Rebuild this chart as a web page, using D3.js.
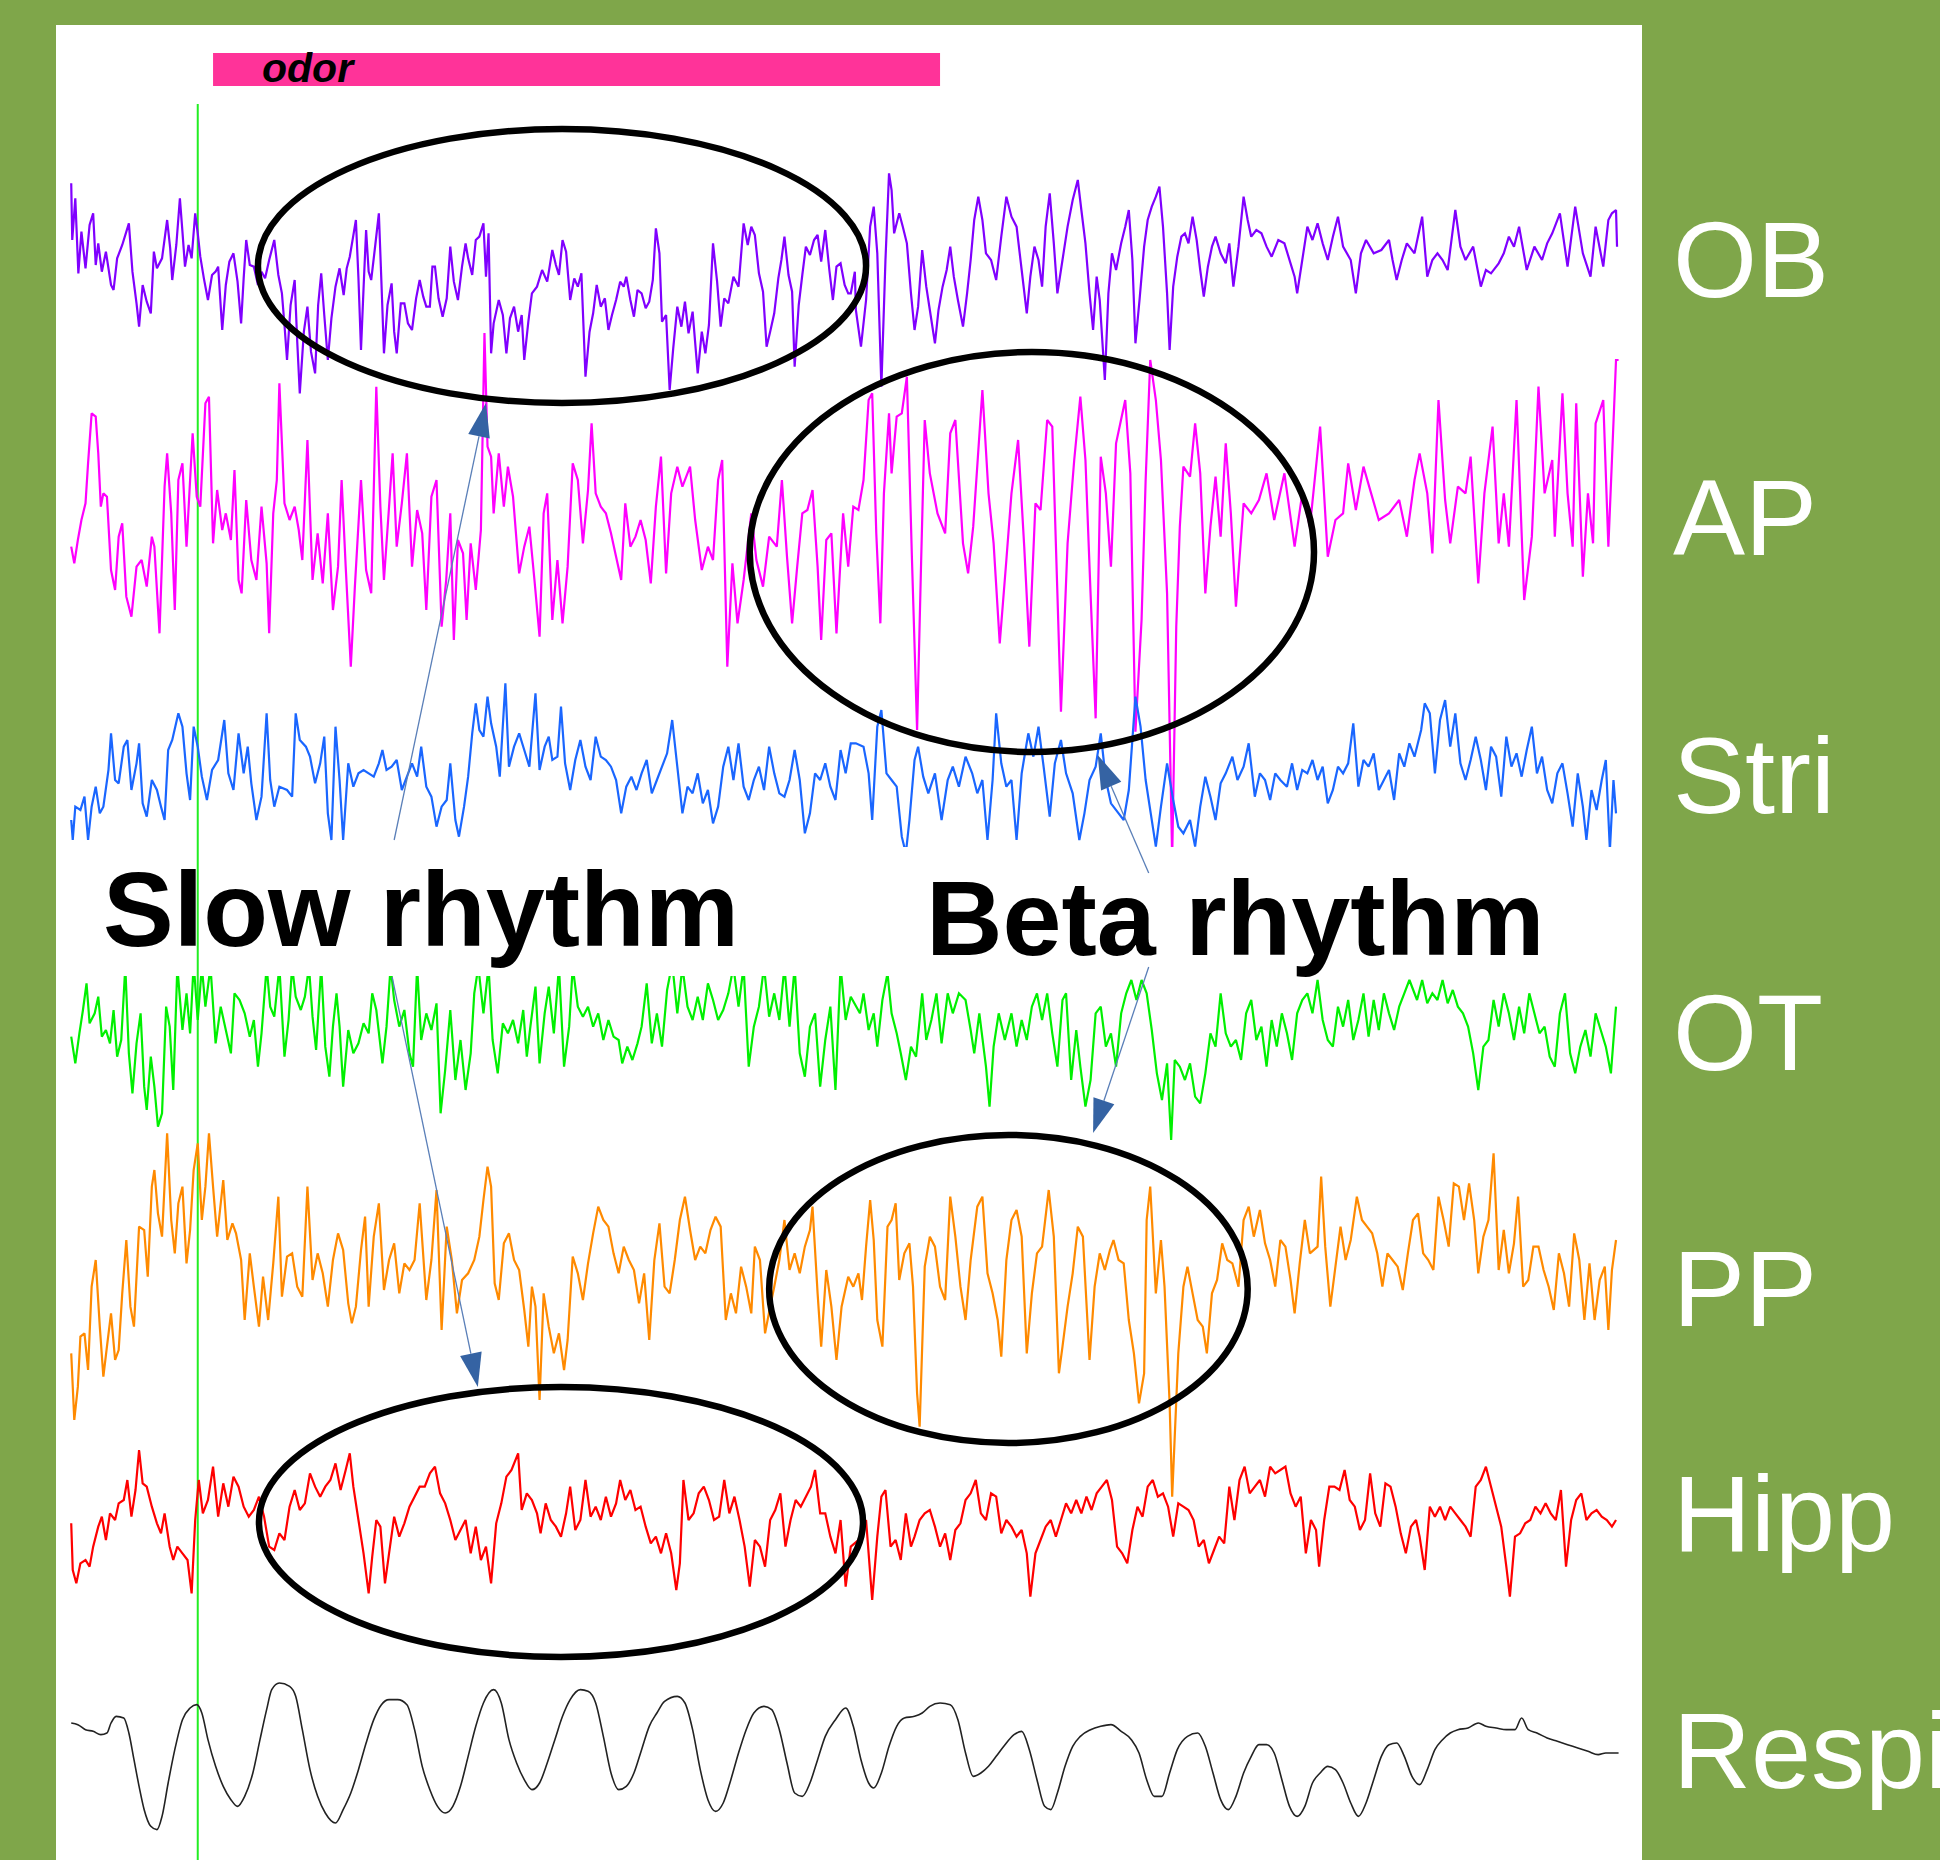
<!DOCTYPE html>
<html><head><meta charset="utf-8">
<script src="https://cdn.jsdelivr.net/npm/d3@7"></script>
<style>html,body{margin:0;padding:0;background:#7fa64a;}svg{display:block}</style>
</head><body><svg id="c" width="1940" height="1860"></svg>
<script>
// time in samples (1 kHz), amplitude in arbitrary units (µV-like)
const OB = [22,245,24,75,30,200,36,-25,42,100,50,-10,58,120,65,155,70,0,75,65,82,-20,90,40,100,-60,105,-75,112,20,122,60,135,125,142,-20,150,-115,155,-185,162,-60,170,-110,178,-145,184,40,190,-10,200,20,210,135,216,50,220,-45,228,60,235,200,240,100,245,-5,252,60,258,20,265,155,270,95,275,25,282,-40,290,-105,298,-30,305,-20,310,-5,318,-195,325,-60,332,10,340,35,348,-50,355,-175,360,-40,365,75,372,0,380,-5,388,-60,395,-20,402,-40,410,15,420,75,428,-30,435,-85,440,-180,445,-285,452,-120,460,-45,465,-230,470,-385,478,-200,485,-125,492,-260,500,-325,506,-120,512,-25,518,-150,525,-285,532,-160,540,-65,548,-10,556,-90,562,-10,568,25,574,80,580,135,585,-40,590,-255,595,-70,600,105,605,-20,610,-45,618,60,625,155,630,-50,635,-265,642,-120,650,-55,655,-200,660,-265,668,-115,675,-115,682,-175,690,-195,698,-100,705,-45,712,-95,718,-125,725,-125,730,-5,735,-5,742,-100,750,-155,758,-100,765,55,772,-50,780,-105,788,-5,795,65,800,20,808,-30,815,75,822,85,830,125,835,-35,840,95,845,-265,850,-175,860,-105,868,-150,875,-265,882,-160,890,-125,898,-200,905,-150,910,-285,918,-170,925,-85,935,-65,945,-15,955,-50,965,45,972,0,978,-30,985,75,992,40,1000,-105,1008,-40,1015,-65,1022,-25,1030,-335,1038,-200,1045,-145,1052,-60,1060,-125,1068,-100,1075,-195,1082,-150,1090,-105,1098,-50,1105,-65,1110,-35,1118,-105,1125,-155,1132,-75,1140,-85,1148,-130,1155,-110,1162,-45,1168,110,1175,35,1180,-170,1188,-150,1195,-375,1202,-250,1210,-125,1218,-185,1225,-110,1232,-205,1240,-140,1250,-325,1258,-200,1265,-265,1272,-180,1280,65,1288,-50,1295,-185,1302,-100,1310,-115,1320,-35,1330,-65,1340,125,1348,60,1355,115,1362,90,1370,-25,1378,-80,1385,-245,1392,-200,1400,-145,1408,-40,1414,15,1420,85,1428,-30,1435,-80,1440,-305,1448,-120,1455,-30,1462,55,1470,30,1478,75,1485,90,1492,10,1500,105,1508,-15,1515,-105,1522,-5,1530,5,1538,-60,1545,-85,1550,-85,1558,-20,
1560,-135,1570,-245,1580,-105,1588,115,1595,175,1602,35,1610,-365,1618,15,1625,275,1630,225,1635,95,1645,155,1652,115,1660,65,1668,-85,1675,-195,1682,-125,1690,45,1698,-65,1705,-135,1715,-235,1722,-135,1730,-65,1738,-15,1745,55,1752,-35,1760,-105,1770,-185,1778,-85,1785,15,1792,135,1800,205,1808,135,1815,35,1825,15,1835,-45,1845,85,1855,205,1865,145,1875,115,1885,-15,1895,-145,1902,-35,1910,55,1918,15,1925,-65,1932,115,1940,215,1948,65,1955,-85,1965,15,1975,115,1985,195,1995,255,2002,165,2010,65,2018,-85,2025,-195,2032,-35,2038,-105,2048,-345,2055,-85,2062,35,2070,-15,2080,65,2088,115,2095,165,2102,15,2108,-235,2116,-105,2125,55,2132,135,2140,175,2148,205,2155,235,2162,115,2170,-85,2175,-255,2182,-65,2190,25,2198,85,2205,95,2212,65,2220,145,2228,75,2235,-15,2242,-95,2250,-5,2258,55,2265,85,2275,35,2285,5,2292,65,2300,-65,2310,55,2320,205,2328,135,2335,85,2345,105,2355,95,2365,55,2375,25,2388,75,2400,65,2412,5,2420,-35,2425,-85,2435,15,2445,115,2455,75,2465,125,2475,65,2485,15,2495,85,2505,145,2515,55,2530,15,2540,-85,2550,35,2560,75,2575,35,2590,45,2605,75,2612,15,2620,-45,2630,15,2640,65,2655,35,2670,145,2680,-35,2690,15,2700,35,2710,15,2720,-15,2735,165,2745,55,2755,15,2770,55,2785,-65,2795,-15,2805,-25,2820,5,2830,35,2840,85,2850,55,2860,115,2875,-15,2890,55,2905,15,2915,65,2925,95,2940,155,2955,-5,2970,175,2985,35,3000,-35,3010,115,3025,-5,3035,135,3042,155,3050,165,3052,55];
const AP = [22,-65,28,-115,35,-45,42,15,50,65,55,185,62,335,70,325,75,215,80,55,85,95,92,85,100,-135,108,-195,115,-35,122,5,130,-215,140,-275,150,-125,160,-105,170,-185,180,-35,185,-65,195,-325,205,115,210,215,218,35,225,-255,232,135,240,185,248,-65,255,135,260,275,268,85,275,55,285,365,292,385,300,-55,308,105,318,-15,325,35,335,-45,342,165,350,-165,356,-205,365,75,375,-105,385,-165,395,55,405,-115,410,-325,418,35,425,135,430,425,440,65,450,15,460,55,468,-15,475,-105,485,255,495,-165,505,-25,515,-175,525,35,535,-255,545,-125,552,135,560,-125,570,-425,578,-185,590,135,600,-135,610,-205,620,415,628,55,635,-165,645,55,652,215,660,-65,670,65,680,215,690,-125,700,45,710,-25,718,-255,728,85,738,135,748,-305,757,-165,765,35,772,-345,780,-45,790,-85,797,-285,805,-55,815,-195,825,-15,832,576,838,235,845,205,850,35,860,215,870,55,878,175,888,85,900,-145,910,-65,920,-5,930,-165,940,-335,948,35,955,95,965,-285,975,-105,985,-295,995,-125,1005,185,1015,135,1025,-55,1035,105,1042,305,1050,95,1060,55,1070,35,1080,-25,1090,-95,1100,-165,1108,65,1118,-65,1128,-35,1138,15,1148,-45,1158,-175,1168,55,1178,205,1188,-145,1198,95,1210,175,1220,115,1235,175,1245,15,1258,-135,1270,-65,1280,-105,1290,135,1298,195,1308,-425,1318,-115,1328,-295,1340,-165,1355,35,1365,-105,1378,-185,1390,-35,1405,-65,1415,135,1425,-95,1435,-295,1445,-125,1455,35,1465,45,1475,105,1485,-125,1492,-345,1502,-45,1512,-25,1522,-325,1535,35,1545,-125,1555,55,
1565,45,1575,135,1585,375,1592,395,1600,-25,1608,-295,1615,95,1625,335,1630,155,1640,325,1650,335,1660,445,1670,-105,1680,-615,1688,-105,1695,315,1705,155,1720,35,1735,-25,1745,275,1755,315,1770,-55,1780,-145,1790,-5,1808,405,1820,95,1830,-55,1842,-355,1855,-105,1865,95,1878,255,1890,-65,1900,-365,1912,65,1922,45,1935,315,1945,295,1955,-205,1962,-560,1975,-55,1988,195,2000,385,2010,195,2020,-205,2030,-580,2040,205,2050,95,2060,-125,2070,245,2088,375,2098,155,2108,-620,2120,-285,2128,135,2137,495,2148,375,2158,195,2170,-205,2180,-1000,2188,-305,2195,-5,2202,175,2215,145,2225,305,2235,155,2245,-205,2255,-5,2265,145,2275,-35,2285,245,2295,35,2305,-245,2320,65,2335,35,2350,75,2365,155,2380,15,2400,155,2420,-65,2435,95,2450,-5,2470,295,2485,-95,2500,15,2515,35,2525,185,2540,45,2555,175,2570,95,2585,15,2605,35,2625,75,2640,-35,2655,135,2665,215,2680,95,2690,-85,2702,375,2715,75,2725,-55,2740,115,2755,95,2765,205,2780,-175,2792,95,2808,295,2820,-55,2830,95,2840,-65,2855,375,2870,-225,2885,-35,2898,415,2910,95,2925,195,2930,-35,2945,395,2955,95,2965,-65,2972,365,2985,-155,2995,95,3005,-55,3010,305,3025,375,3035,-65,3042,195,3050,495,3055,495];
const STRI = [22,-135,25,-195,30,-95,40,-105,48,-65,55,-195,62,-95,70,-35,78,-115,85,-95,95,15,100,125,108,-15,115,-25,125,85,132,105,140,-45,150,35,155,95,162,-85,170,-125,180,-15,190,-45,198,-95,205,-135,212,75,220,105,232,185,240,145,248,5,255,-75,262,145,270,85,278,-5,288,-75,298,15,310,45,322,165,330,5,340,-45,350,125,360,5,368,85,375,-25,385,-135,395,-65,405,185,412,-15,420,-95,430,-35,445,-45,455,-65,462,185,470,105,482,85,490,55,500,-25,510,35,518,115,525,-115,532,-195,540,145,548,-15,555,-195,565,35,575,-35,585,5,595,15,605,5,615,-5,625,35,632,75,640,15,650,25,660,45,670,-45,680,-5,690,35,700,-5,708,85,718,-35,728,-65,738,-155,748,-95,758,-75,765,35,775,-135,782,-185,792,-95,800,-5,808,125,815,215,822,135,830,115,838,235,845,155,855,85,862,-5,873,275,880,25,890,85,900,125,910,75,920,25,932,245,940,15,950,85,958,115,965,45,975,55,982,205,990,35,1000,-45,1010,45,1020,105,1030,25,1040,-15,1050,115,1060,55,1070,45,1080,25,1090,-15,1100,-115,1110,-35,1120,-5,1130,-45,1140,5,1150,45,1160,-55,1170,-15,1180,25,1190,65,1200,165,1210,25,1220,-115,1230,-35,1240,-55,1250,5,1260,-85,1270,-45,1280,-145,1290,-95,1300,25,1310,85,1320,-15,1330,95,1340,-35,1350,-75,1360,-15,1370,25,1380,-45,1390,85,1400,5,1410,-55,1420,-65,1430,-15,1440,75,1450,-15,1460,-175,1470,-115,1480,5,1490,-15,1500,35,1510,-35,1520,-75,1530,75,1540,5,1550,95,
1560,95,1575,85,1585,5,1592,-135,1602,145,1610,195,1620,5,1630,-15,1640,-35,1650,-185,1658,-235,1665,-135,1675,45,1682,85,1692,-5,1702,-55,1715,5,1728,-135,1740,-15,1750,25,1762,-35,1775,55,1788,5,1798,-55,1808,-15,1818,-195,1828,-15,1835,185,1845,35,1855,-35,1865,-15,1875,-195,1885,5,1898,125,1908,55,1918,145,1928,25,1940,-125,1950,35,1962,105,1972,5,1985,-55,1998,-195,2008,-115,2018,-15,2030,25,2040,125,2050,-15,2060,-85,2075,-115,2085,-135,2095,-45,2108,235,2118,145,2128,-15,2138,-115,2148,-215,2158,-95,2170,35,2182,-75,2192,-155,2202,-175,2215,-135,2225,-215,2235,-95,2245,-5,2255,-65,2265,-135,2275,-25,2285,5,2298,55,2308,-15,2320,25,2330,95,2342,-65,2352,5,2362,-15,2372,-75,2382,5,2392,-15,2405,-35,2415,35,2425,-45,2435,15,2445,5,2455,45,2465,-15,2475,25,2485,-85,2495,-45,2505,25,2515,5,2525,35,2535,155,2545,-35,2555,45,2565,25,2575,65,2585,-45,2595,-15,2605,15,2615,-75,2625,65,2635,25,2645,95,2655,55,2668,135,2675,215,2685,185,2695,5,2705,165,2715,225,2725,85,2735,185,2745,35,2755,-15,2765,45,2775,115,2785,45,2795,-45,2805,85,2815,55,2825,-65,2835,115,2845,25,2855,65,2865,-5,2875,75,2885,145,2895,5,2905,55,2915,-45,2925,-85,2935,5,2945,35,2955,-55,2965,-155,2975,5,2985,-95,2992,-195,3002,-45,3012,-105,3022,-15,3030,45,3038,-225,3045,-15,3050,-115];
const OT = [22,-20,30,-100,38,-10,45,60,52,140,58,20,68,50,75,100,82,-20,90,0,98,-40,105,60,112,-80,120,-30,128,190,135,-70,142,-190,150,-40,158,50,165,-170,170,-240,178,-80,185,-170,192,-290,200,-250,208,70,215,10,222,-180,230,190,240,0,248,110,255,-10,262,200,270,30,278,190,285,70,295,190,305,-40,315,70,325,0,335,-70,342,110,352,90,362,50,372,-20,380,30,388,-110,395,-10,405,190,412,70,420,40,430,190,440,-80,448,30,455,190,462,100,472,60,480,100,488,190,495,40,502,-60,512,190,520,-50,528,-140,535,10,542,110,548,10,555,-170,565,0,575,-70,585,-40,595,20,605,-10,612,110,620,60,632,-100,640,10,648,190,655,90,665,10,675,60,685,-70,692,-110,700,190,708,-30,718,50,728,0,738,80,746,-250,755,-120,765,60,775,-150,785,-30,795,-180,805,-70,812,110,820,190,830,50,840,190,848,-30,858,-130,868,20,878,-10,888,30,898,-40,908,60,915,-80,922,10,932,130,940,-100,950,50,958,130,968,-10,978,190,988,-110,998,10,1005,190,1015,70,1025,40,1035,70,1045,10,1055,50,1065,-30,1075,30,1085,-20,1095,-30,1102,-100,1112,-50,1122,-90,1132,-40,1140,10,1150,140,1160,-40,1170,50,1180,-50,1190,120,1200,200,1210,50,1220,190,1230,70,1240,30,1250,100,1260,30,1270,140,1280,90,1290,30,1300,60,1310,110,1320,190,1330,70,1340,190,1350,-110,1360,10,1370,70,1380,190,1390,40,1400,110,1410,30,1420,190,1430,10,1440,190,1450,-70,1460,-140,1470,10,1480,50,1490,-170,1500,-30,1510,70,1520,-180,1530,190,1540,30,1550,100,
1568,50,1575,110,1585,0,1595,50,1602,-50,1612,90,1622,170,1630,50,1640,-10,1648,-70,1658,-150,1668,-50,1678,-80,1690,110,1698,-30,1708,30,1718,110,1728,-40,1740,110,1750,50,1762,110,1775,90,1785,0,1792,-70,1802,50,1815,-110,1822,-230,1830,-50,1840,50,1852,-30,1865,50,1875,-50,1885,30,1895,-30,1905,70,1915,110,1925,30,1935,110,1945,-10,1955,-110,1965,90,1972,110,1982,-150,1992,0,2000,-110,2010,-230,2020,-150,2030,50,2040,70,2050,-50,2060,-10,2070,-110,2080,50,2090,110,2100,150,2110,90,2120,150,2130,110,2140,0,2150,-130,2160,-210,2170,-100,2178,-330,2185,-90,2195,-110,2205,-150,2215,-100,2225,-200,2235,-220,2245,-130,2255,-10,2265,-50,2275,110,2285,-10,2295,-50,2305,-30,2315,-90,2325,50,2335,90,2345,-30,2355,10,2365,-110,2375,30,2385,-50,2395,50,2405,-10,2415,-90,2425,50,2435,90,2445,110,2455,50,2465,150,2475,30,2485,-30,2495,-50,2505,70,2515,10,2525,90,2535,-30,2545,30,2555,110,2565,-20,2575,90,2585,0,2595,110,2605,50,2615,0,2625,70,2635,110,2645,150,2660,90,2670,150,2680,80,2690,110,2700,90,2710,150,2720,80,2730,120,2740,70,2750,50,2760,10,2770,-70,2780,-180,2790,-50,2800,-30,2810,90,2820,10,2830,110,2840,50,2850,-30,2860,70,2870,-10,2880,110,2890,50,2900,-10,2910,10,2920,-80,2930,-110,2940,50,2950,110,2960,-70,2970,-130,2980,-50,2990,0,3000,-80,3010,50,3020,0,3030,-50,3040,-130,3050,70];
const PP = [22,-250,28,-450,35,-350,40,-200,48,-190,55,-300,62,-50,70,30,78,-170,85,-320,92,-230,100,-130,108,-270,115,-240,122,-70,130,90,138,-110,145,-170,155,130,165,120,172,-20,180,250,185,300,192,170,200,100,210,410,218,150,225,50,232,200,240,250,248,20,255,120,262,300,270,380,278,150,285,250,292,410,300,250,308,100,320,270,328,90,338,140,345,110,355,30,362,-150,372,50,380,-50,390,-170,398,-20,408,-150,418,20,428,220,435,-80,445,40,455,50,465,-50,475,-80,485,250,495,-30,505,50,515,-10,525,-110,535,30,545,110,555,60,565,-100,572,-160,580,-110,590,60,598,160,605,-110,615,100,625,200,635,-60,645,30,655,80,665,-70,675,20,685,0,695,30,705,200,718,-90,728,30,738,240,748,-180,758,130,768,30,778,-130,788,-30,800,-10,812,30,822,100,830,210,838,310,845,250,852,-40,860,-90,870,80,880,110,890,30,900,0,910,-120,918,-230,925,-50,932,-110,940,-390,948,-70,958,-170,968,-250,978,-190,988,-300,995,-210,1005,40,1015,-10,1025,-90,1035,20,1045,110,1055,190,1065,150,1075,130,1085,50,1095,-10,1105,70,1115,30,1125,0,1135,-100,1145,-10,1155,-210,1165,30,1175,140,1185,-50,1195,-70,1205,30,1215,150,1225,220,1235,120,1245,30,1255,70,1265,50,1275,120,1285,160,1295,130,1305,-150,1315,-70,1325,-130,1335,10,1345,-50,1355,-130,1362,70,1372,30,1382,-190,1392,-110,1400,-50,1410,30,1420,150,1430,0,1440,50,1450,-10,1460,70,1470,120,1475,190,1485,-70,1492,-230,1502,0,1512,-110,1522,-270,1532,-110,1545,-20,1555,-50,
1565,-10,1572,-90,1580,70,1588,210,1595,90,1602,-150,1612,-230,1622,130,1630,150,1638,200,1645,-30,1655,50,1665,80,1672,-50,1680,-370,1685,-470,1695,10,1705,100,1715,70,1725,-50,1735,-90,1745,220,1755,100,1765,-50,1775,-150,1785,30,1798,190,1808,220,1818,-10,1828,-70,1838,-150,1845,-260,1855,30,1865,150,1875,180,1885,100,1895,-250,1905,-70,1915,50,1925,70,1938,240,1948,100,1958,-310,1965,-230,1975,-110,1985,-10,1995,130,2005,100,2018,-270,2028,-50,2038,50,2048,0,2058,60,2065,90,2075,30,2085,20,2095,-150,2105,-250,2115,-400,2125,-310,2130,150,2137,250,2148,-70,2158,90,2165,-50,2175,-400,2180,-680,2192,-250,2202,-50,2210,10,2220,-70,2230,-150,2240,-170,2248,-250,2258,-70,2268,-30,2278,80,2288,30,2298,20,2310,-50,2320,150,2330,190,2340,100,2352,180,2362,80,2372,30,2382,-50,2392,90,2402,70,2412,-30,2420,-130,2430,20,2440,150,2450,50,2465,70,2472,280,2480,70,2490,-110,2500,10,2510,130,2520,30,2530,90,2542,220,2552,150,2562,130,2572,110,2582,50,2592,-50,2602,50,2612,30,2622,10,2632,-60,2642,50,2652,150,2662,170,2672,50,2682,30,2692,0,2702,220,2712,150,2722,70,2732,260,2742,250,2752,150,2762,260,2772,150,2780,-10,2790,100,2800,150,2810,350,2820,0,2830,120,2840,-10,2850,80,2858,220,2868,-50,2878,-30,2888,70,2898,70,2908,0,2918,-50,2928,-120,2938,50,2948,-10,2958,-110,2968,110,2978,30,2988,-150,2998,20,3008,-150,3018,-30,3028,10,3035,-180,3042,0,3050,90];
const HIPP = [22,-10,25,-150,32,-190,40,-130,50,-120,58,-140,65,-80,75,-20,82,10,90,-60,98,20,108,0,115,50,125,60,132,120,140,10,148,90,155,210,162,110,170,100,180,40,190,-10,198,-40,205,20,215,-80,222,-120,230,-80,240,-100,250,-120,258,-220,265,0,272,120,280,20,290,60,300,160,310,10,320,110,330,40,340,130,350,100,360,40,370,10,380,30,390,70,400,10,410,-80,420,-90,430,-40,440,-60,450,40,460,90,470,30,480,50,490,140,500,100,510,70,520,100,530,120,540,170,550,90,560,150,568,200,575,100,585,0,595,-100,605,-220,612,-110,620,0,628,-20,637,-190,645,-100,655,10,665,-50,675,-10,685,40,695,70,705,100,715,100,725,140,735,160,745,80,755,50,765,0,775,-60,785,-30,795,0,805,-100,815,-20,825,-120,835,-80,845,-190,855,-10,865,50,875,130,885,150,898,200,905,30,915,80,925,60,935,20,942,-40,952,50,962,0,972,-20,982,-50,992,20,1000,100,1010,-30,1020,0,1030,120,1040,10,1050,40,1060,0,1070,70,1080,10,1090,50,1098,120,1108,60,1118,90,1128,30,1138,40,1148,-20,1158,-70,1168,-50,1178,-100,1188,-40,1198,-100,1208,-210,1215,-130,1222,120,1232,0,1242,20,1252,80,1262,100,1272,60,1282,0,1292,10,1302,120,1312,20,1322,70,1332,0,1342,-80,1352,-200,1362,-60,1372,-80,1382,-140,1392,0,1402,30,1412,80,1422,-80,1432,0,1442,60,1452,40,1462,70,1472,100,1480,150,1490,20,1500,20,1510,-50,1520,-100,1530,0,1540,-200,1550,-80,
1565,-60,1580,0,1592,-240,1602,-50,1610,70,1618,90,1628,-80,1638,-60,1648,-120,1658,20,1668,-80,1675,-50,1685,0,1695,20,1705,30,1715,-20,1725,-80,1735,-40,1745,-120,1755,-30,1765,-10,1775,60,1785,80,1795,120,1805,20,1815,0,1825,80,1835,70,1845,-40,1855,0,1865,-20,1875,-50,1885,-30,1895,-100,1902,-230,1912,-100,1922,-60,1932,-20,1942,0,1952,-50,1962,0,1972,50,1982,20,1992,60,2002,20,2012,70,2022,30,2032,80,2042,100,2052,120,2062,60,2072,-80,2082,-100,2092,-130,2102,-30,2112,40,2122,10,2132,100,2142,120,2152,70,2162,80,2172,40,2182,-50,2192,50,2202,40,2212,30,2222,0,2232,-80,2242,-60,2252,-130,2262,-90,2272,-50,2282,-70,2292,100,2302,0,2312,120,2322,160,2332,80,2342,100,2352,120,2362,70,2372,160,2382,140,2392,150,2402,160,2412,80,2422,40,2432,70,2442,-100,2452,0,2462,-30,2468,-140,2478,0,2488,100,2498,100,2508,90,2518,150,2528,60,2538,40,2548,-30,2558,0,2568,140,2578,20,2588,-20,2598,110,2608,100,2618,40,2628,-40,2638,-100,2648,-20,2658,0,2665,-50,2675,-150,2685,40,2695,10,2705,40,2715,0,2725,40,2735,20,2745,0,2755,-20,2765,-50,2775,100,2785,120,2795,160,2805,100,2815,40,2825,-20,2835,-140,2842,-230,2852,-50,2862,-40,2872,-10,2882,0,2892,40,2902,20,2912,50,2922,20,2932,0,2942,90,2952,-140,2962,0,2972,60,2982,80,2992,0,3002,20,3012,30,3022,10,3032,0,3042,-20,3050,0];
const RESPI = [22,90,35,85,50,70,65,65,80,55,92,60,100,90,110,110,125,105,135,60,145,-20,155,-100,165,-170,178,-220,190,-230,200,-190,212,-90,225,10,240,100,255,135,268,145,278,120,290,40,305,-40,320,-100,335,-140,348,-160,362,-130,378,-60,392,40,405,130,415,190,430,210,450,200,462,170,475,70,490,-50,505,-130,520,-180,540,-210,555,-170,570,-120,585,-50,600,30,615,100,630,145,645,160,662,160,680,145,695,70,710,-40,725,-110,740,-160,755,-180,770,-160,785,-100,800,-10,815,80,830,150,850,190,865,150,880,40,895,-30,910,-80,925,-110,940,-90,955,-30,970,40,985,110,1000,160,1020,190,1035,185,1050,150,1065,50,1080,-60,1095,-110,1110,-100,1125,-60,1140,10,1155,80,1170,120,1185,155,1210,170,1225,150,1240,70,1255,-50,1270,-140,1285,-175,1300,-150,1315,-80,1330,0,1345,70,1360,120,1380,140,1395,130,1410,70,1425,-30,1440,-120,1455,-130,1470,-90,1485,-20,1500,50,1520,100,1540,135,
1555,80,1570,-20,1585,-90,1595,-105,1610,-60,1625,20,1640,80,1655,105,1675,110,1690,120,1705,140,1725,150,1745,145,1760,100,1775,0,1790,-70,1805,-60,1820,-40,1835,-10,1850,20,1870,55,1885,65,1900,10,1915,-80,1930,-160,1942,-170,1955,-120,1970,-40,1985,20,2000,50,2020,70,2040,80,2060,85,2080,65,2100,40,2115,0,2130,-80,2145,-130,2160,-130,2175,-60,2190,10,2210,50,2230,60,2245,20,2260,-60,2275,-140,2290,-170,2305,-130,2320,-60,2335,-10,2350,25,2365,25,2380,0,2395,-80,2410,-160,2425,-190,2440,-160,2455,-90,2470,-60,2485,-40,2500,-50,2515,-90,2530,-150,2545,-190,2560,-150,2575,-80,2590,-10,2605,25,2620,30,2635,-10,2650,-70,2665,-95,2680,-50,2695,10,2710,40,2725,60,2740,70,2760,75,2780,90,2795,80,2815,75,2835,70,2852,70,2865,105,2878,70,2895,60,2915,45,2935,35,2955,25,2975,15,2995,5,3015,-5,3030,0,3055,0];

const traceNames  = ["OB","AP","Stri","OT","PP","Hipp","Respi"];
const traceData   = [OB, AP, STRI, OT, PP, HIPP, RESPI];
const traceColors = ["#8000ff","#ff00ff","#1a66ff","#00f000","#ff8a00","#ff0000","#222222"];
const odorOnset = 270;            // sample of odor onset (green marker)
const odorWindow = [300, 1725];   // odor delivery period (samples)
const odorLabel = "odor";
const noteTexts = ["Slow rhythm","Beta rhythm"];

// ---------- layout ----------
const W = 1940, H = 1860;
const panel = {x:56, y:25, w:1586, h:1835};
const baselines = [265, 525, 775, 1030, 1270, 1520, 1753];
const clipGroup = [0,0,0,1,1,1,1];
const clips = [[panel.y, 847],[976, panel.y+panel.h]];
const labelBaselines = [297, 555, 813, 1070, 1326, 1551, 1788];

const pairs = a => d3.range(0, a.length, 2).map(i => [a[i], a[i+1]]);

const svg = d3.select("#c");
svg.append("rect").attr("width",W).attr("height",H).attr("fill","#7fa64a");
svg.append("rect").attr("x",panel.x).attr("y",panel.y).attr("width",panel.w).attr("height",panel.h).attr("fill","#ffffff");

const x = d3.scaleLinear().domain([0, 3097]).range([60, 1640]);

const defs = svg.append("defs");
clips.forEach((c,i)=>{
  defs.append("clipPath").attr("id","clip"+i).append("rect")
    .attr("x",panel.x).attr("y",c[0]).attr("width",panel.w).attr("height",c[1]-c[0]);
});

// odor bar
svg.append("rect").attr("x",x(odorWindow[0])).attr("y",53)
  .attr("width",x(odorWindow[1])-x(odorWindow[0])).attr("height",33).attr("fill","#ff3399");
svg.append("text").attr("x",262).attr("y",82).text(odorLabel)
  .attr("font-family","'Liberation Sans', Arial, sans-serif").attr("font-weight","bold")
  .attr("font-style","italic").attr("font-size",41).attr("fill","#000");

// onset marker
svg.append("line").attr("x1",x(odorOnset)).attr("x2",x(odorOnset)).attr("y1",104).attr("y2",H)
  .attr("stroke","#22ee22").attr("stroke-width",2);

// traces
traceData.forEach((arr,i)=>{
  const y = d3.scaleLinear().domain([-300,300]).range([baselines[i]+100, baselines[i]-100]);
  const line = d3.line().x(d=>x(d[0])).y(d=>y(d[1]))
    .curve(i===6 ? d3.curveMonotoneX : d3.curveLinear);
  svg.append("g").attr("clip-path",`url(#clip${clipGroup[i]})`)
    .append("path").datum(pairs(arr)).attr("d",line)
    .attr("fill","none").attr("stroke",traceColors[i])
    .attr("stroke-width", i===6 ? 1.6 : 2.2).attr("stroke-linejoin","miter").attr("stroke-miterlimit",2);
});

// ellipses (annotations)
const ellipses = [
  {trace:0, t0:388,  t1:1580, dy:1,  ry:137},
  {trace:1, t0:1352, t1:2458, dy:27, ry:200},
  {trace:4, t0:1390, t1:2328, dy:19, ry:154},
  {trace:5, t0:390,  t1:1574, dy:2,  ry:135}
];
ellipses.forEach(e=>{
  svg.append("ellipse").attr("cx",(x(e.t0)+x(e.t1))/2).attr("cy",baselines[e.trace]+e.dy)
    .attr("rx",(x(e.t1)-x(e.t0))/2).attr("ry",e.ry)
    .attr("fill","none").attr("stroke","#000").attr("stroke-width",6.5);
});

// arrows
const arrows = [
  {t1:655,  y1:840, t2:835,  y2:403},
  {t1:651,  y1:977, t2:819,  y2:1387},
  {t1:2134, y1:873, t2:2034, y2:755},
  {t1:2134, y1:967, t2:2025, y2:1133}
];
arrows.forEach(a=>{
  const x1=x(a.t1), x2=x(a.t2), y1=a.y1, y2=a.y2;
  const ang=Math.atan2(y2-y1,x2-x1), L=34, hw=11;
  const bx=x2-L*Math.cos(ang), by=y2-L*Math.sin(ang);
  svg.append("line").attr("x1",x1).attr("y1",y1).attr("x2",bx).attr("y2",by)
    .attr("stroke","#5a7fb8").attr("stroke-width",1.3);
  const px=-Math.sin(ang)*hw, py=Math.cos(ang)*hw;
  svg.append("path").attr("d",`M${x2},${y2}L${bx+px},${by+py}L${bx-px},${by-py}Z`).attr("fill","#3563a3");
});

// rhythm notes
const noteStyle = s => s.attr("font-family","'Liberation Sans', Arial, sans-serif")
  .attr("font-weight","bold").attr("font-size",106).attr("fill","#000");
noteStyle(svg.append("text").attr("x",103).attr("y",946).text(noteTexts[0]));
noteStyle(svg.append("text").attr("x",926).attr("y",955).text(noteTexts[1]));

// region labels (the last one runs past the right edge, as in the original figure)
traceNames.forEach((n,i)=>{
  svg.append("text").attr("x",1673).attr("y",labelBaselines[i]).text(n)
    .attr("font-family","'Liberation Sans', Arial, sans-serif").attr("font-size",108).attr("fill","#ffffff");
});
</script></body></html>
